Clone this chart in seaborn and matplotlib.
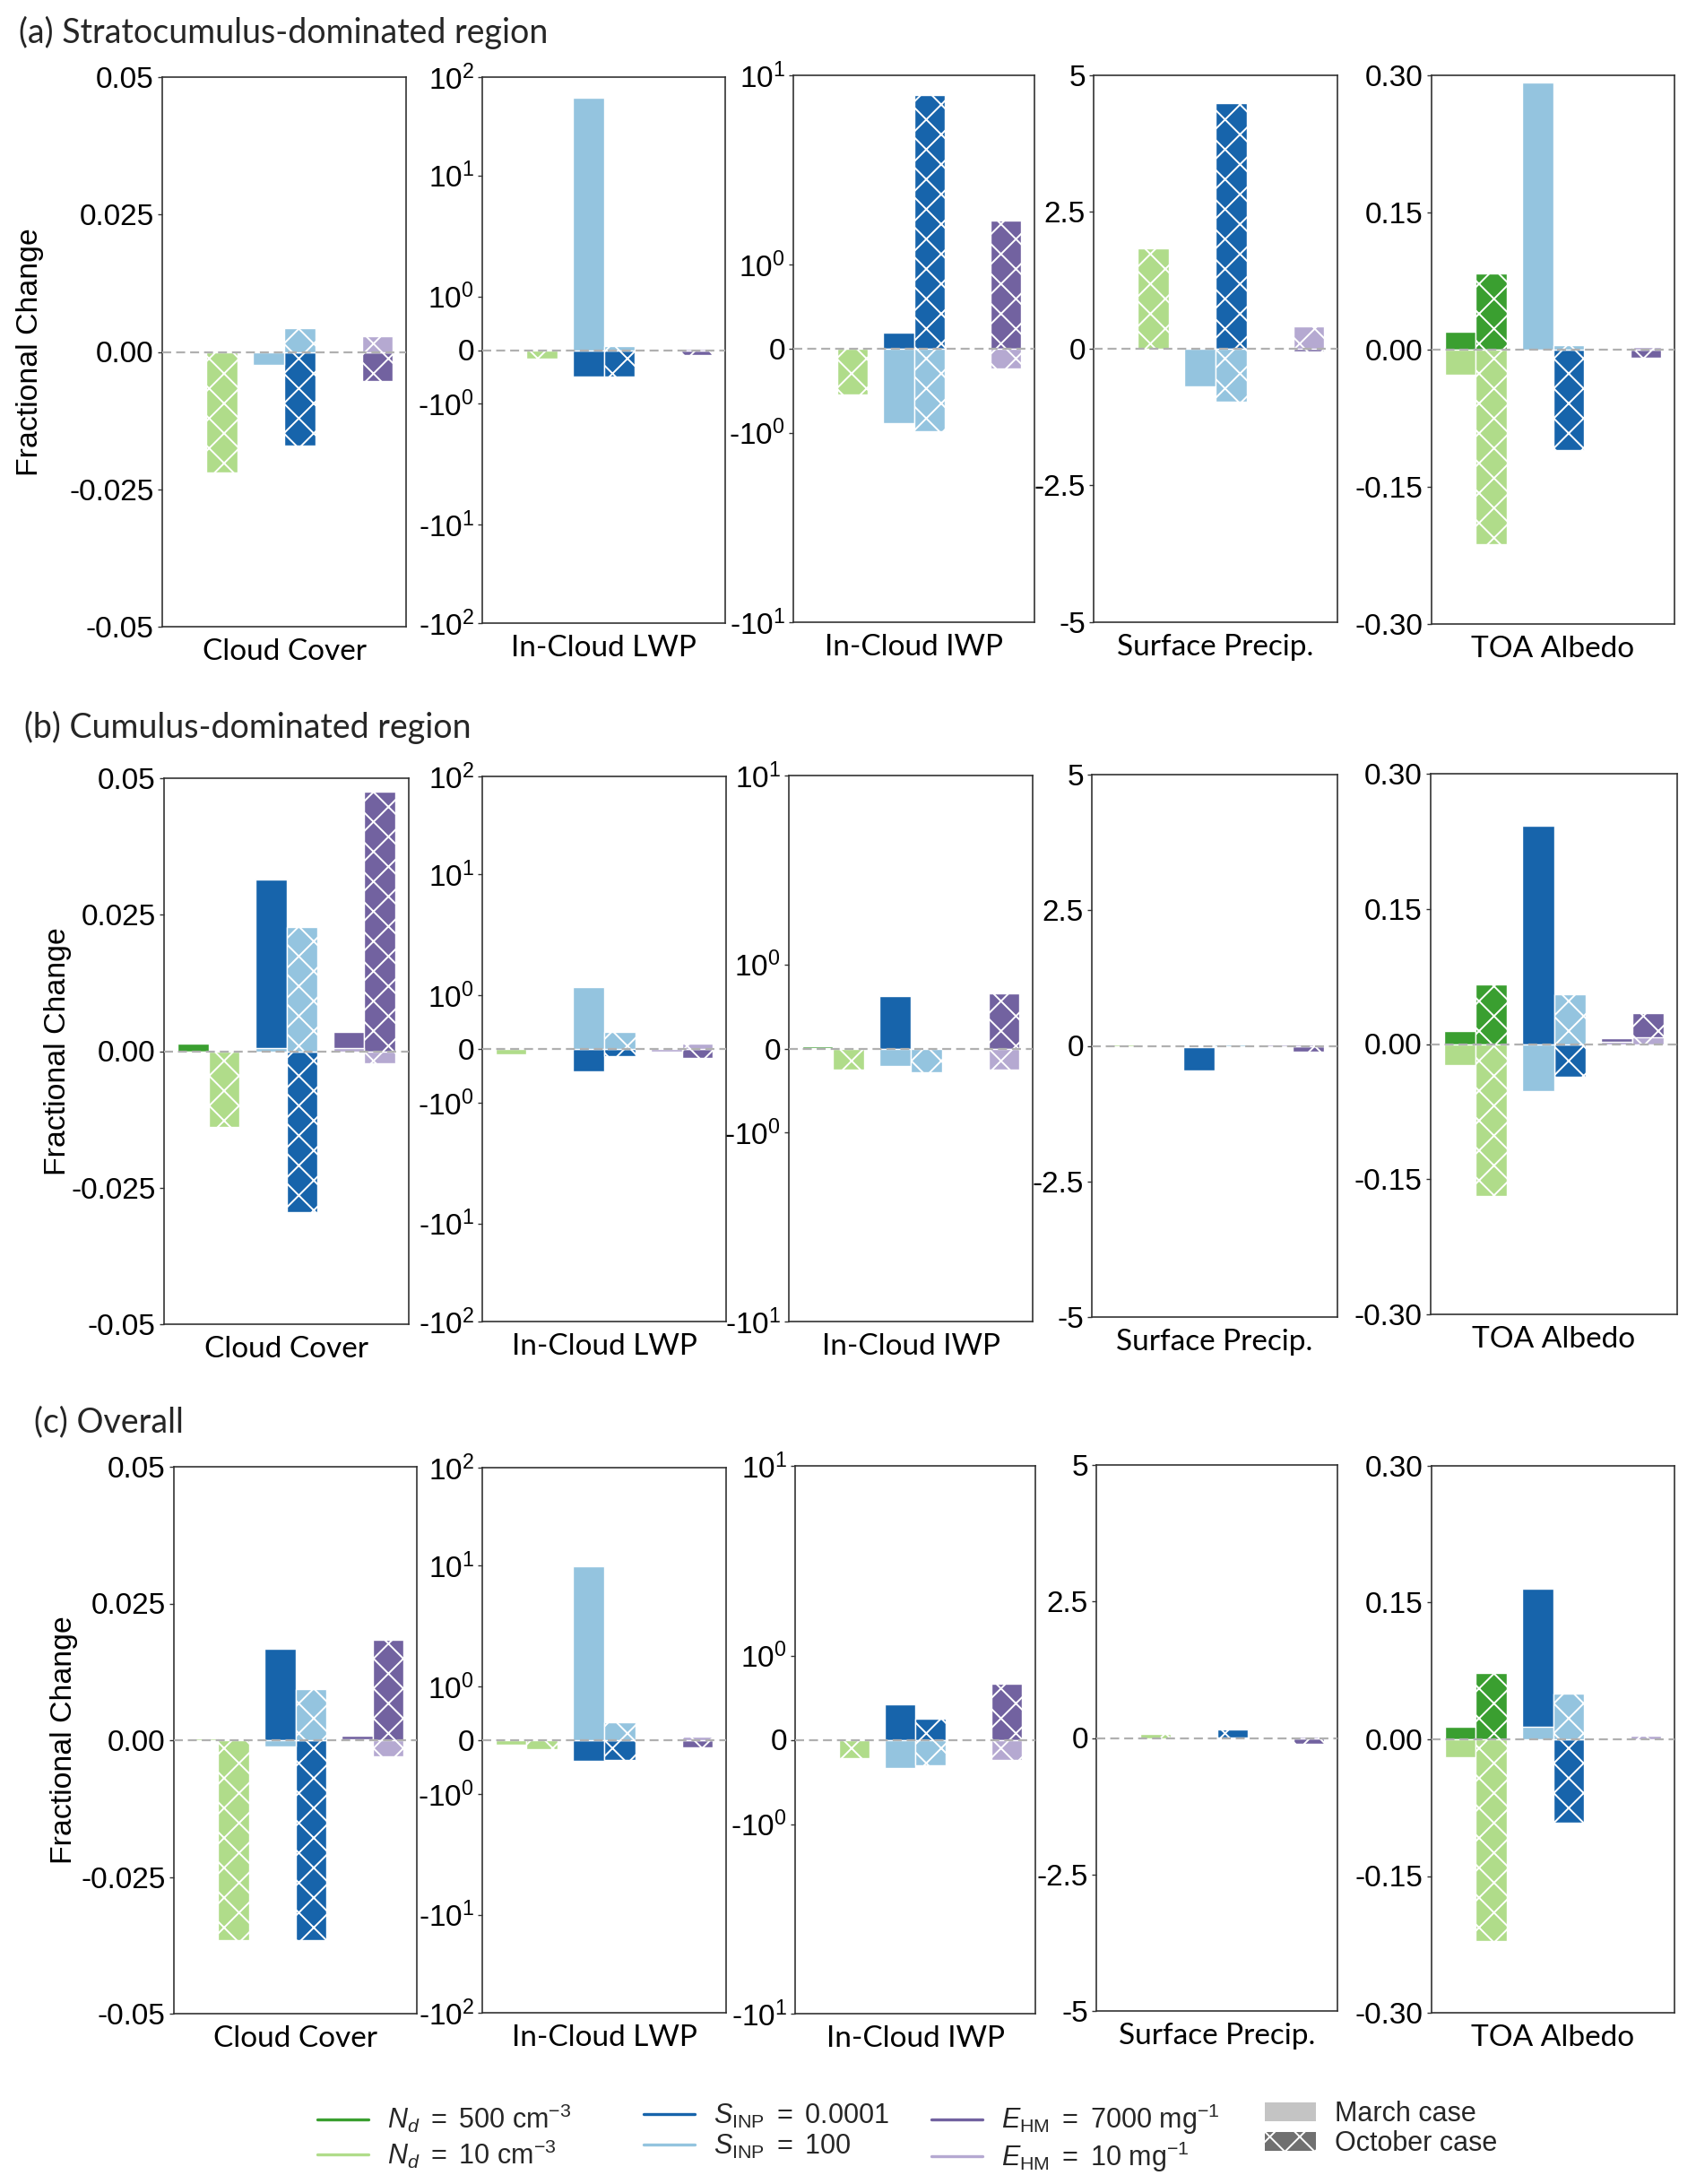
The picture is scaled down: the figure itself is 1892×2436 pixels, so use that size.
import numpy as np
import pandas as pd
import seaborn as sns
import matplotlib.pyplot as plt
from matplotlib.lines import Line2D
from matplotlib.patches import Patch

# every row lists: [Nd March, Nd October, SINP March, SINP October, EHM March, EHM October]
# rows: cloud cover, in-cloud LWP, in-cloud IWP, surface precip., TOA albedo
variables = ['Cloud Cover', 'In-Cloud LWP', 'In-Cloud IWP', 'Surface Precip.', 'TOA Albedo']
groups = ['Nd', 'SINP', 'EHM']
cases = ['March', 'October']

# (a) stratocumulus-dominated region
sc_dark = [  # Nd = 500, SINP = 0.0001, EHM = 7000
    [-0.0002, 0.0001, -0.0005, -0.0170, 0.0001, -0.0053],
    [0.01, -0.01, -0.50, -0.50, 0.01, -0.10],
    [0.01, 0.005, 0.19, 7.9, 0.01, 1.7],
    [0.01, 0.01, -0.02, 4.49, 0.01, -0.05],
    [0.020, 0.083, 0.003, -0.110, -0.002, -0.009],
]
sc_light = [  # Nd = 10, SINP = 100, EHM = 10
    [-0.0001, -0.0219, -0.0023, 0.0044, 0.0001, 0.0028],
    [0.01, -0.16, 44.0, 0.08, -0.02, 0.02],
    [0.01, -0.54, -0.88, -0.98, 0.01, -0.23],
    [0.01, 1.84, -0.69, -0.97, 0.01, 0.41],
    [-0.027, -0.213, 0.292, 0.005, -0.001, 0.003],
]

# (b) cumulus-dominated region
cu_dark = [
    [0.0014, -0.0001, 0.0315, -0.0295, 0.0036, 0.0476],
    [-0.01, 0.01, -0.41, -0.14, -0.01, -0.16],
    [0.03, 0.005, 0.62, -0.02, 0.01, 0.66],
    [0.01, 0.01, -0.45, 0.01, 0.01, -0.10],
    [0.0145, 0.066, 0.242, -0.036, 0.006, 0.034],
]
cu_light = [
    [-0.0003, -0.0139, 0.0006, 0.0228, 0.0006, -0.0022],
    [-0.10, 0.01, 1.16, 0.32, -0.05, 0.10],
    [0.01, -0.25, -0.21, -0.28, 0.01, -0.25],
    [0.02, 0.01, -0.02, 0.03, 0.02, 0.02],
    [-0.023, -0.169, -0.052, 0.055, 0.002, 0.007],
]

# (c) overall
ov_dark = [
    [0.0005, -0.0001, 0.0167, -0.0366, 0.0008, 0.0183],
    [-0.02, -0.01, -0.38, -0.37, -0.01, -0.13],
    [0.01, 0.005, 0.42, 0.25, 0.01, 0.67],
    [-0.01, 0.01, 0.01, 0.16, -0.01, -0.10],
    [0.014, 0.073, 0.165, -0.091, -0.001, -0.001],
]
ov_light = [
    [0.0003, -0.0366, -0.0011, 0.0093, 0.0002, -0.0030],
    [-0.08, -0.16, 9.9, 0.33, -0.02, 0.06],
    [0.005, -0.22, -0.34, -0.30, 0.01, -0.24],
    [0.01, 0.07, -0.01, 0.01, -0.01, 0.03],
    [-0.020, -0.221, 0.014, 0.050, -0.001, 0.004],
]

row_titles = ['(a) Stratocumulus-dominated region', '(b) Cumulus-dominated region', '(c) Overall']
row_data = [(sc_dark, sc_light), (cu_dark, cu_light), (ov_dark, ov_light)]

dark_labels = [r'$N_d\ =\ 500\ \mathrm{cm}^{-3}$', r'$S_\mathrm{INP}\ =\ 0.0001$',
               r'$E_\mathrm{HM}\ =\ 7000\ \mathrm{mg}^{-1}$']
light_labels = [r'$N_d\ =\ 10\ \mathrm{cm}^{-3}$', r'$S_\mathrm{INP}\ =\ 100$',
                r'$E_\mathrm{HM}\ =\ 10\ \mathrm{mg}^{-1}$']

lwp_top = 65  # axis end that the figure labels 10^2
cloud_ticks = [-0.05, -0.025, 0, 0.025, 0.05]
cloud_labels = ['-0.05', '-0.025', '0.00', '0.025', '0.05']
lwp_ticks = [-lwp_top, -10, -1, 0, 1, 10, lwp_top]
lwp_labels = ['-$10^{2}$', '-$10^{1}$', '-$10^{0}$', '0', '$10^{0}$', '$10^{1}$', '$10^{2}$']
iwp_ticks = [-10, -1, 0, 1, 10]
iwp_labels = ['-$10^{1}$', '-$10^{0}$', '0', '$10^{0}$', '$10^{1}$']
precip_ticks = [-5, -2.5, 0, 2.5, 5]
precip_labels = ['-5', '-2.5', '0', '2.5', '5']
albedo_ticks = [-0.30, -0.15, 0, 0.15, 0.30]
albedo_labels = ['-0.30', '-0.15', '0.00', '0.15', '0.30']

# colours
dark_colors = ['#3a9f30', '#1764ab', '#7262a0']
light_colors = ['#b0dc8a', '#94c4df', '#b5a9d1']

# layout in pixels: left, top, right, bottom
W, H = 1892, 2436
axes_px = [
    [(181, 86, 453, 699), (538, 86, 809, 695), (885, 84, 1154, 694), (1220, 84, 1492, 694), (1597, 84, 1868, 696)],
    [(183, 868, 456, 1477), (538, 866, 810, 1474), (880, 865, 1152, 1474), (1218, 864, 1492, 1469), (1596, 863, 1871, 1466)],
    [(194, 1636, 465, 2246), (538, 1637, 810, 2245), (887, 1635, 1155, 2246), (1223, 1634, 1492, 2243), (1597, 1635, 1868, 2245)],
]
title_px = [(21, 36), (27, 811), (38, 1586)]
ylabel_x_px = [33, 64, 71]

sns.set_theme(style='ticks')
plt.rcParams['font.family'] = ['Liberation Sans', 'DejaVu Sans']
plt.rcParams['mathtext.fontset'] = 'custom'
plt.rcParams['mathtext.rm'] = 'Liberation Sans'
plt.rcParams['mathtext.it'] = 'Liberation Sans:italic'
plt.rcParams['mathtext.bf'] = 'Liberation Sans:bold'
plt.rcParams['axes.unicode_minus'] = False
plt.rcParams['hatch.color'] = 'white'
plt.rcParams['hatch.linewidth'] = 0.7


def draw_bars(ax, values, colors):
    df = pd.DataFrame({'group': np.repeat(groups, 2), 'case': cases * 3, 'value': values})
    n_before = len(ax.patches)
    sns.barplot(data=df, x='group', y='value', hue='case', order=groups, hue_order=cases,
                dodge=True, width=0.8, palette=['0.5', '0.5'], errorbar=None,
                legend=False, ax=ax)
    for bar in ax.patches[n_before:]:
        xc = bar.get_x() + bar.get_width() / 2
        g = int(round(xc))
        bar.set_facecolor(colors[g])
        bar.set_edgecolor('white')
        bar.set_linewidth(0.5)
        if xc > g:
            bar.set_hatch('xx')


fig = plt.figure(figsize=(W / 200, H / 200), dpi=200)

for r in range(3):
    dark, light = row_data[r]
    tx, ty = title_px[r]
    fig.text(tx / W, 1 - ty / H, row_titles[r], fontfamily='Lato', fontsize=13.5,
             ha='left', va='center')
    for c in range(5):
        l, t, rr, b = axes_px[r][c]
        ax = fig.add_axes([l / W, 1 - b / H, (rr - l) / W, (b - t) / H])
        draw_bars(ax, dark[c], dark_colors)
        draw_bars(ax, light[c], light_colors)
        ax.axhline(0, color='#b0b0b0', lw=0.8, ls=(0, (4.5, 2.5)), zorder=3)
        ax.set_xlim(-0.57, 2.57)
        ax.set_xticks([])

        if c == 0:
            ax.set_ylim(-0.05, 0.05)
            ax.set_yticks(cloud_ticks, cloud_labels)
        elif c == 1:
            ax.set_yscale('symlog', linthresh=1, linscale=0.4)
            ax.set_ylim(-lwp_top, lwp_top)
            ax.set_yticks(lwp_ticks, lwp_labels)
        elif c == 2:
            ax.set_yscale('symlog', linthresh=1, linscale=0.4)
            ax.set_ylim(-10, 10)
            ax.set_yticks(iwp_ticks, iwp_labels)
        elif c == 3:
            ax.set_ylim(-5, 5)
            ax.set_yticks(precip_ticks, precip_labels)
        else:
            ax.set_ylim(-0.30, 0.30)
            ax.set_yticks(albedo_ticks, albedo_labels)
        ax.yaxis.set_minor_locator(plt.NullLocator())
        ax.tick_params(axis='y', direction='out', length=1.8, width=0.5, pad=1.5,
                       labelsize=12, color='#333333', labelcolor='black')

        ax.set_xlabel(variables[c], fontfamily='Lato', fontsize=12, color='black')
        ax.xaxis.label.set_va('center')
        ax.xaxis.set_label_coords(0.5, -28 / (b - t))
        if c == 0:
            ax.set_ylabel('Fractional Change', fontsize=12.2, color='black')
            ax.yaxis.label.set_va('center')
            ax.yaxis.set_label_coords((ylabel_x_px[r] - l) / (rr - l), 0.5)
        else:
            ax.set_ylabel('')
        for s in ax.spines.values():
            s.set_visible(True)
            s.set_linewidth(0.6)
            s.set_color('#333333')

# legends
legend_kw = dict(loc='upper left', frameon=False, borderpad=0, borderaxespad=0,
                 handlelength=1.86, handletextpad=0.69, labelspacing=0.1, fontsize=11)
legend_x_px = [354, 718, 1039]
for i in range(3):
    hs = [Line2D([], [], color=dark_colors[i], lw=1.2), Line2D([], [], color=light_colors[i], lw=1.2)]
    fig.legend(hs, [dark_labels[i], light_labels[i]],
               bbox_to_anchor=(legend_x_px[i] / W, 1 - 2345 / H), **legend_kw)

case_handles = [Patch(facecolor='#c4c4c4', edgecolor='none'),
                Patch(facecolor='#707070', edgecolor='white', lw=0, hatch='xx')]
fig.legend(case_handles, ['March case', 'October case'],
           bbox_to_anchor=(1411 / W, 1 - 2343 / H), **legend_kw)

fig.savefig('out.png', dpi=200)
